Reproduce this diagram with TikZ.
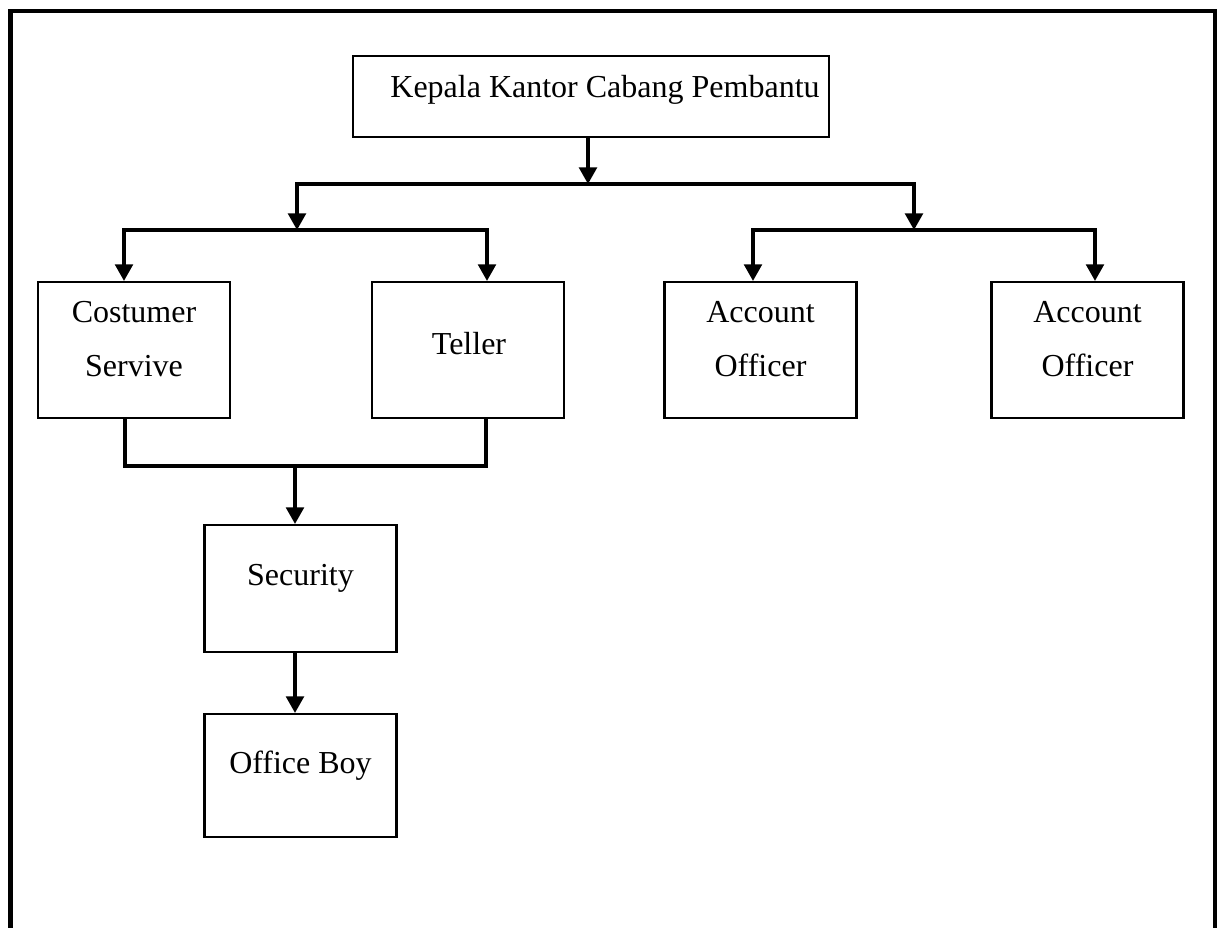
\documentclass[tikz,border=0pt]{standalone}
\usepackage{fontspec}
\setmainfont{Liberation Serif}
\usetikzlibrary{arrows.meta}
\tikzstyle{jabatan}=[draw, line width=0.8pt, minimum width=72pt, minimum height=51pt, inner sep=0pt]
\tikzstyle{teks}=[font=\fontsize{12pt}{20.25pt}\selectfont, align=center, inner sep=0pt]
\tikzstyle{garis}=[line width=1.25pt]
\tikzstyle{panah}=[garis, -{Triangle[width=6.6pt,length=6.2pt]}]
\tikzstyle{panahdua}=[garis, {Triangle[width=6.6pt,length=6.2pt]}-{Triangle[width=6.6pt,length=6.2pt]}]

\begin{document}
\begin{tikzpicture}[x=0.375pt,y=-0.375pt]
	\useasboundingbox (0,0) rectangle (1222,928);
	% bingkai luar, terbuka di bawah
	\draw[line width=1.6pt] (10.5,928) -- (10.5,11) -- (1215,11) -- (1215,928);

	% kotak jabatan
	\node[jabatan, minimum width=178.5pt, minimum height=30.4pt] (kepala) at (591,96.5) {};
	\node[jabatan] (cs) at (134,350) {};
	\node[jabatan] (teller) at (468,350) {};
	\node[jabatan] (ao1) at (760.5,350) {};
	\node[jabatan] (ao2) at (1087.5,350) {};
	\node[jabatan, minimum height=47.6pt] (security) at (300.5,588.5) {};
	\node[jabatan, minimum height=46.1pt] (ob) at (300.5,775.5) {};

	% teks di dalam kotak (agak ke atas)
	\node[teks] (tkepala) at (605,90) {Kepala Kantor Cabang Pembantu};
	\node[teks] (tcs) at (134,339) {Costumer\\Servive};
	\node[teks] (tteller) at (469,343.5) {Teller};
	\node[teks] (tao1) at (760.5,339) {Account\\Officer};
	\node[teks] (tao2) at (1087.5,339) {Account\\Officer};
	\node[teks] (tsec) at (300.5,578.5) {Security};
	\node[teks] (tob) at (300.5,765.5) {Office Boy};

	% titik cabang
	\coordinate (pk) at (588,184);
	\coordinate (pl) at (297,184);
	\coordinate (pr) at (914,184);
	\coordinate (ql) at (297,230);
	\coordinate (qr) at (914,230);
	\coordinate (cs1) at (124,230);
	\coordinate (te1) at (487,230);
	\coordinate (ao1p) at (753,230);
	\coordinate (ao2p) at (1095,230);
	\coordinate (cs2) at (125,466);
	\coordinate (te2) at (486,466);
	\coordinate (bw) at (295,466);

	% garis dan panah
	\draw[panah] (kepala.south -| pk) -- (pk);
	\draw[panahdua] (ql) -- (pl) -- (pr) -- (qr);
	\draw[panahdua] (cs.north -| cs1) -- (cs1) -- (te1) -- (teller.north -| te1);
	\draw[panahdua] (ao1.north -| ao1p) -- (ao1p) -- (ao2p) -- (ao2.north -| ao2p);
	\draw[garis] (cs.south -| cs2) -- (cs2) -- (te2) -- (teller.south -| te2);
	\draw[panah] (bw) -- (security.north -| bw);
	\draw[panah] (security.south -| bw) -- (ob.north -| bw);
\end{tikzpicture}
\end{document}
